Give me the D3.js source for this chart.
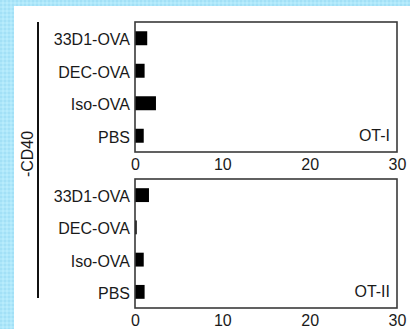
<!DOCTYPE html>
<html>
<head>
<meta charset="utf-8">
<script src="https://cdn.jsdelivr.net/npm/d3@7"></script>
<style>
  body { margin: 0; background: #fff; }
  text { font-family: "Liberation Sans", Arial, sans-serif; fill: #1a1a1a; }
</style>
</head>
<body>
<script>
// categories, top to bottom
const groups = ["33D1-OVA", "DEC-OVA", "Iso-OVA", "PBS"];
// values
const otI = [1.4, 1.1, 2.4, 1.0];
const otII = [1.6, 0.2, 1.0, 1.1];
const panelNames = ["OT-I", "OT-II"];
const xTicks = [0, 10, 20, 30];

const width = 410, height = 329;

const svg = d3.select("body")
    .append("svg")
    .attr("width", width)
    .attr("height", height);

// textured light blue edge
const defs = svg.append("defs");
const pat = defs.append("pattern")
    .attr("id", "tex")
    .attr("width", 4)
    .attr("height", 4)
    .attr("patternUnits", "userSpaceOnUse");
pat.append("rect").attr("width", 4).attr("height", 4).attr("fill", "#aee7fa");
pat.append("rect").attr("x", 0).attr("y", 0).attr("width", 2).attr("height", 2).attr("fill", "#a2e0f6");
pat.append("rect").attr("x", 2).attr("y", 2).attr("width", 2).attr("height", 2).attr("fill", "#b8ecfc");

svg.append("rect").attr("width", width).attr("height", height).attr("fill", "url(#tex)");
svg.append("rect").attr("x", 14).attr("y", 6).attr("width", width - 14).attr("height", height - 6).attr("fill", "#fff");

const x = d3.scaleLinear()
    .domain([0, 30])
    .range([135, 397]);

// each panel: top / bottom of frame
const panels = [
    {name: panelNames[0], values: otI, top: 22, bottom: 152},
    {name: panelNames[1], values: otII, top: 179, bottom: 308}
];

panels.forEach(p => {
    const y = d3.scaleBand()
        .domain(groups)
        .range([p.top, p.bottom])
        .paddingInner(0.57)
        .paddingOuter(0.285);

    const g = svg.append("g");

    // bars
    g.selectAll("rect.bar")
        .data(p.values)
        .enter()
        .append("rect")
        .attr("class", "bar")
        .attr("x", x(0))
        .attr("y", (d, i) => y(groups[i]))
        .attr("width", d => x(d) - x(0))
        .attr("height", y.bandwidth())
        .attr("fill", "#000");

    // frame
    g.append("rect")
        .attr("x", x(0))
        .attr("y", p.top)
        .attr("width", x(30) - x(0))
        .attr("height", p.bottom - p.top)
        .attr("fill", "none")
        .attr("stroke", "#3a3a3a")
        .attr("stroke-width", 1.6);

    // category labels
    g.selectAll("text.cat")
        .data(groups)
        .enter()
        .append("text")
        .attr("class", "cat")
        .attr("x", x(0) - 5)
        .attr("y", d => y(d) + y.bandwidth() / 2 + 7)
        .attr("text-anchor", "end")
        .attr("font-size", "16px")
        .text(d => d);

    // x tick labels (no tick marks)
    const ax = g.append("g")
        .attr("transform", `translate(0,${p.bottom})`)
        .call(d3.axisBottom(x).tickValues(xTicks).tickSize(0).tickPadding(7));
    ax.select(".domain").remove();
    ax.selectAll("text")
        .attr("font-size", "16px")
        .attr("font-family", "'Liberation Sans', Arial, sans-serif")
        .attr("fill", "#1a1a1a");

    // panel name
    g.append("text")
        .attr("x", x(30) - 7)
        .attr("y", p.bottom - 11)
        .attr("text-anchor", "end")
        .attr("font-size", "16px")
        .text(p.name);
});

// bracket and treatment label
svg.append("line")
    .attr("x1", 38).attr("x2", 38)
    .attr("y1", 22).attr("y2", 298)
    .attr("stroke", "#111")
    .attr("stroke-width", 2);

svg.append("text")
    .attr("transform", "translate(33,154) rotate(-90)")
    .attr("text-anchor", "middle")
    .attr("font-size", "16px")
    .text("-CD40");
</script>
</body>
</html>
